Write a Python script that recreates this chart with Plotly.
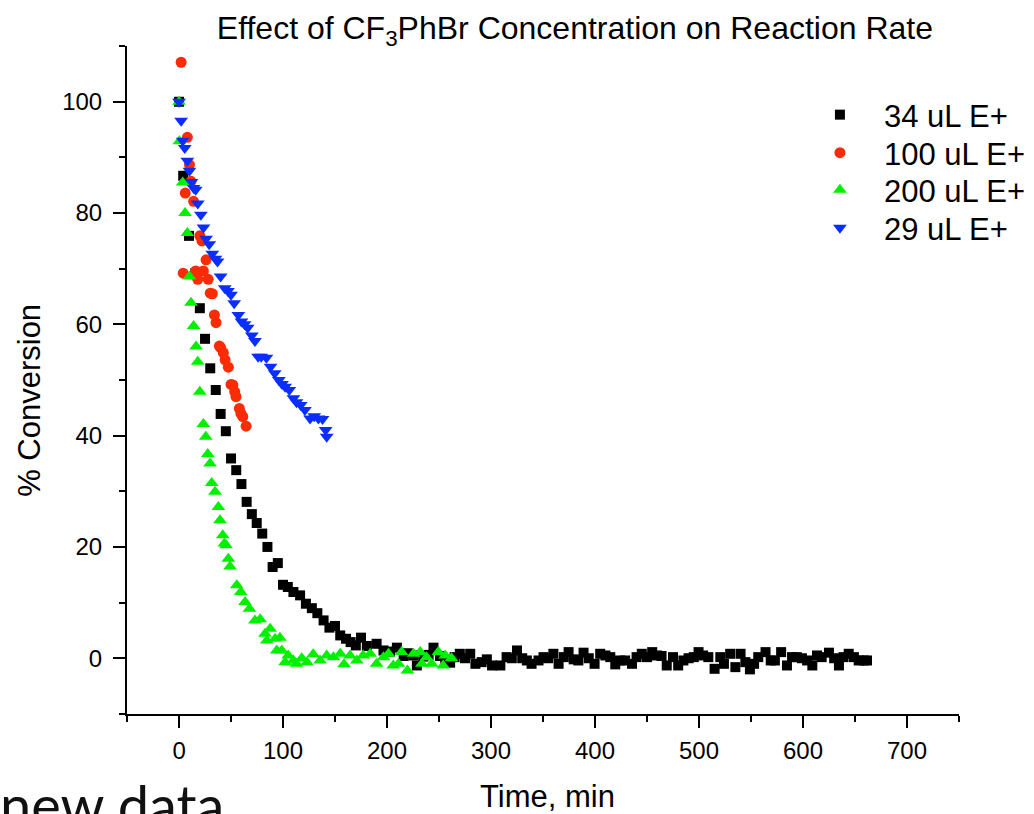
import plotly.graph_objects as go

# ---------------- data ----------------
black_name = "34 uL E+"
black_x = [0, 4, 9.6, 15.7, 20, 25, 30, 35.3, 40, 45, 50, 55, 60, 65, 70, 74.7, 80, 85,
           90, 95, 100, 104.6, 110, 116.4, 122, 127.7, 133, 139, 144.6, 150, 155, 160.6, 165, 170, 175,
           180.6, 190, 196.6, 203, 209.5, 216, 220, 225.5, 228.7, 235, 240, 244.7, 251, 256, 260.7, 265,
           270, 275, 280, 285, 291, 296, 301, 309, 315, 320, 325, 330, 334.5, 339, 345.7, 350.5, 355,
           360, 365, 370, 374.6, 379.5, 384, 389, 394, 399.6, 405, 410, 414.7, 419.5, 424, 429, 435.6,
           440, 445, 450, 455, 459.6, 464, 469, 475, 480, 485, 490, 495, 499.6, 504, 509, 515, 520.5,
           524, 530, 535, 540, 544.6, 549, 553, 557, 564, 569, 573, 579, 584.6, 589.5, 594, 599, 604,
           609, 613.5, 618, 625, 630, 634.6, 639, 644, 649, 653.6, 658.5, 661.6]
black_y = [100, 86.7, 75.9, 69.2, 62.9, 57.4, 52.1, 48.2, 43.9, 40.8, 35.9, 33.8, 31.3, 28.1, 25.9, 24.3,
           22.4, 20.0, 16.4, 17.1, 13.2, 12.8, 11.9, 11.3, 9.8, 9.0, 8.1, 6.8, 5.5, 5.8, 4.1, 3.5, 2.9,
           2.3, 3.7, 2.2, 2.6, 1.4, 1.2, 1.9, 0.4, 0.9, 0.5, -1.3, 0.3, 0.6, 1.9, 0.4, -0.3, -0.8, 0.2,
           0.8, 0.0, 0.8, -1.0, -0.7, -0.2, -1.3, -1.3, 0.2, 0.0, 1.4, 0.0, -0.4, -1.0, -0.4, 0.2, 0.0,
           0.8, -1.0, 0.2, 1.1, -0.2, -0.4, 1.0, 0.0, -1.0, 0.8, 0.5, 0.2, -1.1, -0.4, -0.4, -1.0, 0.2,
           0.8, 0.2, 1.1, 0.5, 0.4, -1.3, 0.2, -1.3, -0.4, 0.0, 0.2, 1.1, 0.5, 0.2, -1.9, 0.2, -1.0, 0.8,
           -1.6, 0.8, -0.7, -2.0, -1.0, 0.2, 1.1, -0.4, -0.4, 1.1, -1.3, 0.2, 0.2, 0.0, -0.4, -1.3, 0.5,
           0.2, 1.0, 0.0, -1.3, 0.2, 0.8, 0.2, -0.4, -0.4, -0.4]

red_name = "100 uL E+"
red_x = [2, 4, 6, 8, 10, 11.5, 14, 16, 18, 20, 22, 23.4, 26, 28, 30, 32, 34, 35.6, 38.8, 40,
         42.6, 44.3, 47.4, 50, 51.7, 53.5, 54.8, 58, 59.5, 61.3, 64.5]
red_y = [107.1, 69.2, 83.6, 93.6, 88.7, 85.7, 82.1, 69.6, 68.1, 75.9, 75.0, 69.6, 71.6, 68.1, 65.6,
         65.5, 61.7, 60.3, 56.1, 55.8, 54.9, 53.6, 52.3, 49.2, 49.1, 47.9, 47.0, 44.9, 44.0, 43.4, 41.7]

green_name = "200 uL E+"
green_x = [0, 0.3, 3.5, 5.8, 8, 10, 11.5, 14, 16.4, 18, 20, 23.4, 25.7, 27.6, 29.8, 31.4, 34.6,
           37.8, 39.4, 42, 43.6, 45.2, 47.4, 49, 55.5, 59.3, 63.5, 67.7, 73, 78, 82.7, 84.4, 87.6,
           92.4, 94, 97, 98.8, 102, 105, 110, 113, 118, 123, 129, 135.6, 142, 148.5, 155, 158.7,
           164.5, 171, 177, 183.8, 190, 196.6, 201.4, 206, 211, 214, 219.6, 225.5, 232, 233.5, 238,
           243, 249.4, 254, 256, 262]
green_y = [100, 92.9, 85.5, 80.0, 76.4, 68.6, 63.9, 59.7, 56.0, 53.3, 47.9, 42.1, 39.8, 36.7, 35.0,
           31.5, 29.9, 27.2, 24.8, 22.1, 20.6, 20.3, 17.9, 16.5, 13.1, 11.9, 10.1, 8.9, 6.8, 7.0, 4.4,
           3.2, 5.3, 3.5, 1.4, 3.7, 1.4, -0.7, 0.5, -0.4, -1.0, 0.0, -0.7, 0.7, -0.4, 0.5, 0.2, 0.8,
           -1.1, 0.5, -0.4, 0.5, 0.8, -1.0, 0.2, 0.8, -1.3, -1.0, 1.1, -2.2, 0.8, 1.1, -1.0, 0.2,
           -1.0, 1.1, -1.3, 0.5, 0.0]

blue_name = "29 uL E+"
blue_x = [0, 2, 3.5, 5.5, 8, 10, 12, 14, 16, 18, 21, 23.5, 26, 29, 32, 35, 37, 40, 44, 47, 50,
          53, 57, 60, 63, 66, 70, 73, 76, 79, 84, 88, 92, 96, 99, 102, 106, 110, 113, 117, 121,
          126, 130, 134, 138, 141, 142]
blue_y = [100, 96.6, 93.0, 91.7, 89.4, 87.6, 85.6, 84.5, 84.2, 81.7, 79.7, 77.4, 75.4, 74.4, 72.7,
          71.8, 71.3, 68.6, 66.5, 66.0, 65.3, 63.8, 61.7, 60.5, 60.0, 59.4, 58.0, 57.0, 54.2, 54.2,
          54.0, 52.4, 51.2, 50.0, 49.3, 48.8, 48.2, 46.7, 46.0, 45.5, 44.6, 43.1, 43.5, 43.1, 43.0,
          41.0, 39.8]

title_text = "Effect of CF<sub>3</sub>PhBr Concentration on Reaction Rate"
x_title = "Time, min"
y_title = "% Conversion"
x_ticks = [0, 100, 200, 300, 400, 500, 600, 700]
y_ticks = [0, 20, 40, 60, 80, 100]
corner_text = "new data"

# ---------------- figure ----------------
FONT = "Liberation Sans, Arial, sans-serif"
fig = go.Figure()

series = [
    (black_name, black_x, black_y, "square", "#000000", 10, "legend"),
    (red_name, red_x, red_y, "circle", "#FA2C05", 11, "legend2"),
    (green_name, green_x, green_y, "triangle-up", "#00F000", 12, "legend3"),
    (blue_name, blue_x, blue_y, "triangle-down", "#0A2EFF", 12, "legend4"),
]
for name, xs, ys, sym, col, sz, lg in series:
    fig.add_trace(go.Scatter(
        x=xs, y=ys, mode="markers", name=name, legend=lg,
        marker=dict(symbol=sym, color=col, size=sz, line=dict(width=0)),
    ))

axis_common = dict(
    showgrid=False, zeroline=False, showline=True, linecolor="black", linewidth=2,
    ticks="outside", ticklen=12, tickwidth=2, tickcolor="black",
    tickfont=dict(family=FONT, size=24, color="black"),
    mirror=False,
)

legend_rows_y = [0.8967, 0.8398, 0.7844, 0.7275]
legend_common = dict(x=0.804, xanchor="left", yanchor="middle",
                     font=dict(family=FONT, size=31, color="black"),
                     bgcolor="rgba(0,0,0,0)", borderwidth=0, itemsizing="trace", itemwidth=78)

fig.update_layout(
    width=1034, height=814,
    margin=dict(l=127, r=75, t=46, b=100, autoexpand=False),
    paper_bgcolor="white", plot_bgcolor="white",
    title=dict(text=title_text, x=0.556, xanchor="center", y=0.966, yanchor="middle",
               font=dict(family=FONT, size=32, color="black")),
    xaxis=dict(range=[-50.05, 750.05], tickvals=x_ticks,
               minor=dict(dtick=50, tick0=0, ticks="outside", ticklen=6, tickwidth=2, tickcolor="black"),
               ticklabelstandoff=2, **axis_common),
    yaxis=dict(range=[-10.02, 110.02], tickvals=y_ticks,
               minor=dict(dtick=10, tick0=0, ticks="outside", ticklen=6, tickwidth=2, tickcolor="black"),
               ticklabelstandoff=6, **axis_common),
    showlegend=True,
    legend=dict(y=legend_rows_y[0], **legend_common),
    legend2=dict(y=legend_rows_y[1], **legend_common),
    legend3=dict(y=legend_rows_y[2], **legend_common),
    legend4=dict(y=legend_rows_y[3], **legend_common),
    annotations=[
        dict(text=x_title, xref="paper", yref="paper", x=0.505, y=-0.123, xanchor="center",
             yanchor="middle", showarrow=False, font=dict(family=FONT, size=31, color="black")),
        dict(text=y_title, xref="paper", yref="paper", x=-0.118, y=0.47, xanchor="center",
             yanchor="middle", textangle=-90, showarrow=False,
             font=dict(family=FONT, size=31, color="black")),
        dict(text=corner_text, xref="paper", yref="paper", x=-0.155, y=-0.136, xanchor="left",
             yanchor="middle", showarrow=False, font=dict(family="Lato, sans-serif", size=56, color="#111111")),
    ],
)

fig.write_html("out.html")
